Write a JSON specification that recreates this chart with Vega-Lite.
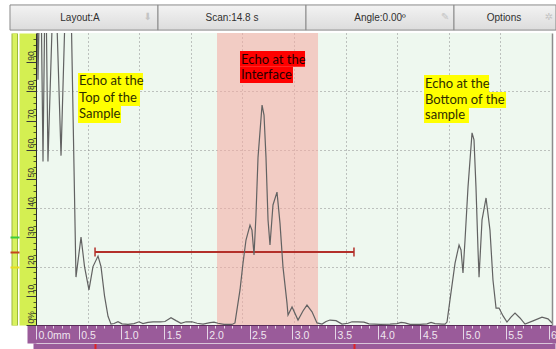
{
  "$schema": "https://vega.github.io/schema/vega-lite/v6.json",
  "width": 516,
  "height": 292,
  "autosize": {"type": "none"},
  "padding": {"left": 36, "top": 33, "right": 4, "bottom": 24},
  "background": "white",
  "view": {"fill": "#eef8ef", "stroke": null},
  "config": {"axis": {"minExtent": 0, "maxExtent": 200}},
  "resolve": {"scale": {"x": "independent", "color": "independent"}, "axis": {"x": "independent", "y": "independent"}},
  "layer": [
    {
      "data": {"values": [
        {"seg": "Layout:A", "start": 0, "end": 1, "lo": 101.0, "hi": 109.6},
        {"seg": "Scan:14.8 s", "start": 1, "end": 2, "lo": 101.0, "hi": 109.6},
        {"seg": "Angle:0.00º", "start": 2, "end": 3, "lo": 101.0, "hi": 109.6},
        {"seg": "Options", "start": 3, "end": 3.689, "lo": 101.0, "hi": 109.6}
      ]},
      "mark": {"type": "rect", "stroke": "#8a8a8a", "strokeWidth": 1,
        "fill": {"gradient": "linear", "x1": 0, "y1": 0, "x2": 0, "y2": 1,
          "stops": [{"offset": 0, "color": "#f3f3f3"}, {"offset": 1, "color": "#dcdcdc"}]}},
      "encoding": {
        "x": {"field": "start", "type": "quantitative", "scale": {"domain": [0.1757, 3.6622], "nice": false, "zero": false}, "axis": null},
        "x2": {"field": "end"},
        "y": {"field": "lo", "type": "quantitative", "scale": {"domain": [0, 100], "nice": false, "zero": false}, "title": null,
          "axis": {"orient": "left", "offset": 21.75, "domainWidth": 6.5, "domainColor": "#9cb83e", "ticks": false, "labels": false, "grid": false}},
        "y2": {"field": "hi"}
      }
    },
    {
      "data": {"values": [
        {"seg": "Layout:A", "mid": 0.473, "c": 105.3},
        {"seg": "Scan:14.8 s", "mid": 1.5, "c": 105.3},
        {"seg": "Angle:0.00º", "mid": 2.5, "c": 105.3},
        {"seg": "Options", "mid": 3.338, "c": 105.3}
      ]},
      "mark": {"type": "text", "font": "Liberation Sans", "fontSize": 10, "color": "#303030"},
      "encoding": {
        "x": {"field": "mid", "type": "quantitative", "scale": {"domain": [0.1757, 3.6622], "nice": false, "zero": false}, "axis": null},
        "y": {"field": "c", "type": "quantitative", "scale": {"domain": [0, 100], "nice": false, "zero": false}, "title": null,
          "axis": {"orient": "left", "offset": 21.75, "domainWidth": 4.5, "domainColor": "#d9f25e", "ticks": false, "labels": false, "grid": false}},
        "text": {"field": "seg"}
      }
    },
    {
      "data": {"values": [
        {"icon": "⬇", "pos": 0.93, "c": 105.6},
        {"icon": "✎", "pos": 2.94, "c": 105.6},
        {"icon": "✲", "pos": 3.64, "c": 105.6}
      ]},
      "mark": {"type": "text", "font": "DejaVu Sans", "fontSize": 10, "color": "#c4c4c4"},
      "encoding": {
        "x": {"field": "pos", "type": "quantitative", "scale": {"domain": [0.1757, 3.6622], "nice": false, "zero": false}, "axis": null},
        "y": {"field": "c", "type": "quantitative", "scale": {"domain": [0, 100], "nice": false, "zero": false}, "axis": null},
        "text": {"field": "icon"}
      }
    },
    {
      "data": {"values": [{"gate_start": 2.119, "gate_end": 3.301, "lo": 0, "hi": 100}]},
      "mark": {"type": "rect", "fill": "#f5aaa3", "opacity": 0.57},
      "encoding": {
        "x": {"field": "gate_start", "type": "quantitative", "scale": {"domain": [0, 6.04], "nice": false, "zero": false}, "title": null,
          "axis": {"orient": "bottom", "offset": 9, "domainWidth": 18, "domainCap": "square", "domainColor": "#9a5b9a", "ticks": false, "labels": false, "grid": false}},
        "x2": {"field": "gate_end"},
        "y": {"field": "lo", "type": "quantitative", "scale": {"domain": [0, 100], "nice": false, "zero": false}, "title": null,
          "axis": {"orient": "left", "offset": 8.5, "domainWidth": 17, "domainColor": "#d4ef52", "ticks": false, "labels": false, "grid": false}},
        "y2": {"field": "hi"}
      }
    },
    {
      "data": {"values": [{"from": 0.691, "to": 3.722, "level": 25}]},
      "mark": {"type": "rule", "color": "#b3302a", "strokeWidth": 2},
      "encoding": {
        "x": {"field": "from", "type": "quantitative", "scale": {"domain": [0, 6.04], "nice": false, "zero": false}, "title": null,
          "axis": {"orient": "bottom", "values": [0, 0.5, 1, 1.5, 2, 2.5, 3, 3.5, 4, 4.5, 5, 5.5, 6], "domain": false, "grid": false,
            "tickSize": 14, "tickColor": "#e6d6e6", "tickWidth": 1,
            "labelAlign": "left", "labelBaseline": "middle", "labelPadding": -4, "labelOffset": 2,
            "labelFont": "Liberation Sans", "labelFontSize": 10.5, "labelColor": "#efe6ef",
            "labelExpr": "datum.value == 0 ? '0.0mm' : format(datum.value, '.1f')", "labelOverlap": false, "labelBound": false, "labelFlush": false}},
        "x2": {"field": "to"},
        "y": {"field": "level", "type": "quantitative", "scale": {"domain": [0, 100], "nice": false, "zero": false}, "title": null,
          "axis": {"orient": "left", "offset": 17, "values": [20, 25, 30], "domain": false, "labels": false, "grid": false,
            "tickSize": 9, "tickWidth": 2,
            "tickColor": {"condition": [{"test": "datum.value == 30", "value": "#3ccc3c"}, {"test": "datum.value == 25", "value": "#c4461e"}], "value": "#e8dc20"}}}
      }
    },
    {
      "data": {"values": [{"pos": 0.691, "lo": 23.5, "hi": 26.5}, {"pos": 3.722, "lo": 23.5, "hi": 26.5}]},
      "mark": {"type": "rule", "color": "#b3302a", "strokeWidth": 1.5},
      "encoding": {
        "x": {"field": "pos", "type": "quantitative", "scale": {"domain": [0, 6.04], "nice": false, "zero": false}, "title": null,
          "axis": {"orient": "bottom", "values": [0.1, 0.2, 0.3, 0.4, 0.6, 0.7, 0.8, 0.9, 1.1, 1.2, 1.3, 1.4, 1.6, 1.7, 1.8, 1.9, 2.1, 2.2, 2.3, 2.4, 2.6, 2.7, 2.8, 2.9, 3.1, 3.2, 3.3, 3.4, 3.6, 3.7, 3.8, 3.9, 4.1, 4.2, 4.3, 4.4, 4.6, 4.7, 4.8, 4.9, 5.1, 5.2, 5.3, 5.4, 5.6, 5.7, 5.8, 5.9],
            "tickSize": 3, "tickColor": "#e6d6e6", "domain": true, "domainColor": "#5a2c5a", "domainWidth": 1, "labels": false, "grid": false}},
        "y": {"field": "lo", "type": "quantitative", "scale": {"domain": [0, 100], "nice": false, "zero": false}, "title": null,
          "axis": {"orient": "left", "offset": 0, "values": [2, 4, 6, 8, 12, 14, 16, 18, 22, 24, 26, 28, 32, 34, 36, 38, 42, 44, 46, 48, 52, 54, 56, 58, 62, 64, 66, 68, 72, 74, 76, 78, 82, 84, 86, 88, 92, 94, 96, 98],
            "tickSize": 3, "tickColor": "#4a5a20", "domain": true, "domainColor": "#2a2a2a", "domainWidth": 1, "labels": false, "grid": false}},
        "y2": {"field": "hi"}
      }
    },
    {
      "data": {"values": [
        {"mm": 0.006, "amp": 130}, {"mm": 0.023, "amp": 84}, {"mm": 0.053, "amp": 130}, {"mm": 0.082, "amp": 56},
        {"mm": 0.111, "amp": 130}, {"mm": 0.140, "amp": 56}, {"mm": 0.217, "amp": 130}, {"mm": 0.293, "amp": 58},
        {"mm": 0.363, "amp": 130}, {"mm": 0.398, "amp": 130}, {"mm": 0.468, "amp": 16.4}, {"mm": 0.527, "amp": 30.1},
        {"mm": 0.568, "amp": 20.0}, {"mm": 0.620, "amp": 12.0}, {"mm": 0.667, "amp": 20.0}, {"mm": 0.726, "amp": 23.6},
        {"mm": 0.761, "amp": 20.0}, {"mm": 0.802, "amp": 10.0}, {"mm": 0.843, "amp": 3.0}, {"mm": 0.878, "amp": 0.3},
        {"mm": 0.913, "amp": 0.5}, {"mm": 0.960, "amp": 1.1}, {"mm": 1.007, "amp": 0.4}, {"mm": 1.077, "amp": 0.2},
        {"mm": 1.147, "amp": 0.5}, {"mm": 1.206, "amp": 1.1}, {"mm": 1.252, "amp": 0.5}, {"mm": 1.311, "amp": 0.9},
        {"mm": 1.370, "amp": 1.1}, {"mm": 1.452, "amp": 1.1}, {"mm": 1.510, "amp": 1.2}, {"mm": 1.580, "amp": 2.5},
        {"mm": 1.639, "amp": 1.5}, {"mm": 1.697, "amp": 0.6}, {"mm": 1.756, "amp": 1.1}, {"mm": 1.826, "amp": 1.1},
        {"mm": 1.885, "amp": 0.6}, {"mm": 1.955, "amp": 0.3}, {"mm": 2.037, "amp": 0.8}, {"mm": 2.084, "amp": 1.0},
        {"mm": 2.130, "amp": 0.6}, {"mm": 2.201, "amp": 0.2}, {"mm": 2.294, "amp": 0.2}, {"mm": 2.329, "amp": 0.7},
        {"mm": 2.388, "amp": 12.0}, {"mm": 2.423, "amp": 21.2}, {"mm": 2.458, "amp": 29.1}, {"mm": 2.505, "amp": 34.2},
        {"mm": 2.528, "amp": 32.5}, {"mm": 2.552, "amp": 24.0}, {"mm": 2.575, "amp": 37.7}, {"mm": 2.599, "amp": 57.5},
        {"mm": 2.646, "amp": 75.3}, {"mm": 2.669, "amp": 71.9}, {"mm": 2.692, "amp": 57.5}, {"mm": 2.716, "amp": 36.0},
        {"mm": 2.739, "amp": 27.4}, {"mm": 2.774, "amp": 41.1}, {"mm": 2.821, "amp": 45.5}, {"mm": 2.856, "amp": 34.9},
        {"mm": 2.891, "amp": 19.9}, {"mm": 2.938, "amp": 7.5}, {"mm": 2.950, "amp": 3.4}, {"mm": 2.997, "amp": 6.2},
        {"mm": 3.067, "amp": 1.7}, {"mm": 3.125, "amp": 4.8}, {"mm": 3.172, "amp": 6.8}, {"mm": 3.231, "amp": 4.5},
        {"mm": 3.289, "amp": 0.7}, {"mm": 3.348, "amp": 0.3}, {"mm": 3.395, "amp": 1.2}, {"mm": 3.441, "amp": 1.7},
        {"mm": 3.512, "amp": 1.5}, {"mm": 3.582, "amp": 0.3}, {"mm": 3.652, "amp": 0.6}, {"mm": 3.699, "amp": 1.1},
        {"mm": 3.769, "amp": 1.1}, {"mm": 3.839, "amp": 1.0}, {"mm": 3.898, "amp": 0.4}, {"mm": 4.027, "amp": 0.2},
        {"mm": 4.144, "amp": 0.3}, {"mm": 4.226, "amp": 0.5}, {"mm": 4.273, "amp": 0.9}, {"mm": 4.319, "amp": 0.7},
        {"mm": 4.378, "amp": 0.2}, {"mm": 4.495, "amp": 0.2}, {"mm": 4.577, "amp": 0.4}, {"mm": 4.624, "amp": 0.9},
        {"mm": 4.671, "amp": 0.5}, {"mm": 4.752, "amp": 0.3}, {"mm": 4.788, "amp": 0.3}, {"mm": 4.811, "amp": 1.0},
        {"mm": 4.846, "amp": 8.6}, {"mm": 4.905, "amp": 21.2}, {"mm": 4.952, "amp": 27.4}, {"mm": 4.975, "amp": 25.7},
        {"mm": 4.998, "amp": 17.8}, {"mm": 5.022, "amp": 29.1}, {"mm": 5.057, "amp": 47.3}, {"mm": 5.104, "amp": 65.8},
        {"mm": 5.127, "amp": 63.4}, {"mm": 5.150, "amp": 47.3}, {"mm": 5.174, "amp": 25.7}, {"mm": 5.186, "amp": 16.4},
        {"mm": 5.221, "amp": 36.0}, {"mm": 5.268, "amp": 43.5}, {"mm": 5.314, "amp": 32.5}, {"mm": 5.349, "amp": 15.4},
        {"mm": 5.385, "amp": 5.8}, {"mm": 5.420, "amp": 5.8}, {"mm": 5.467, "amp": 3.1}, {"mm": 5.513, "amp": 1.0},
        {"mm": 5.560, "amp": 2.7}, {"mm": 5.607, "amp": 4.1}, {"mm": 5.665, "amp": 2.4}, {"mm": 5.724, "amp": 0.3},
        {"mm": 5.818, "amp": 1.4}, {"mm": 5.923, "amp": 2.7}, {"mm": 5.993, "amp": 2.1}, {"mm": 6.040, "amp": 0.7}
      ]},
      "mark": {"type": "line", "color": "#626262", "strokeWidth": 1.2, "clip": true},
      "encoding": {
        "x": {"field": "mm", "type": "quantitative", "scale": {"domain": [0, 6.04], "nice": false, "zero": false}, "title": null,
          "axis": {"orient": "bottom", "values": [0.604, 1.208, 1.812, 2.416, 3.02, 3.624, 4.228, 4.832, 5.436], "grid": true, "gridColor": "#8a8a8a", "gridDash": [1, 3], "gridWidth": 1, "domain": false, "ticks": false, "labels": false}},
        "y": {"field": "amp", "type": "quantitative", "scale": {"domain": [0, 100], "nice": false, "zero": false}, "title": null,
          "axis": {"orient": "left", "values": [20, 40, 60, 80], "grid": true, "gridColor": "#8a8a8a", "gridDash": [1, 3], "gridWidth": 1, "domain": false, "ticks": false, "labels": false}}
      }
    },
    {
      "data": {"values": [
        {"x0": 0.492, "x1": 1.252, "y0": 80.5, "y1": 86.3, "kind": "yellow"},
        {"x0": 0.492, "x1": 1.217, "y0": 75.0, "y1": 80.5, "kind": "yellow"},
        {"x0": 0.492, "x1": 0.995, "y0": 69.2, "y1": 75.0, "kind": "yellow"},
        {"x0": 2.388, "x1": 3.149, "y0": 88.4, "y1": 93.8, "kind": "red"},
        {"x0": 2.388, "x1": 3.008, "y0": 82.9, "y1": 88.4, "kind": "red"},
        {"x0": 4.542, "x1": 5.303, "y0": 79.8, "y1": 85.6, "kind": "yellow"},
        {"x0": 4.542, "x1": 5.502, "y0": 74.3, "y1": 79.8, "kind": "yellow"},
        {"x0": 4.542, "x1": 5.068, "y0": 69.2, "y1": 74.3, "kind": "yellow"}
      ]},
      "mark": {"type": "rect"},
      "encoding": {
        "x": {"field": "x0", "type": "quantitative", "scale": {"domain": [0, 6.04], "nice": false, "zero": false}, "title": null,
          "axis": {"orient": "bottom", "offset": 21, "domainWidth": 6, "domainCap": "square", "domainColor": "#9a5b9a", "ticks": false, "labels": false, "grid": false}},
        "x2": {"field": "x1"},
        "y": {"field": "y0", "type": "quantitative", "scale": {"domain": [0, 100], "nice": false, "zero": false}, "title": null,
          "axis": {"orient": "right", "domain": true, "domainColor": "#8c8c8c", "domainWidth": 1.5, "ticks": false, "labels": false, "grid": false}},
        "y2": {"field": "y1"},
        "color": {"field": "kind", "type": "nominal", "scale": {"domain": ["yellow", "red"], "range": ["#ffff00", "#ff0000"]}, "legend": null}
      }
    },
    {
      "data": {"values": [
        {"x": 0.504, "y": 83.4, "t": "Echo at the", "kind": "yellow"},
        {"x": 0.504, "y": 77.75, "t": "Top of the", "kind": "yellow"},
        {"x": 0.504, "y": 72.1, "t": "Sample", "kind": "yellow"},
        {"x": 2.400, "y": 90.9, "t": "Echo at the", "kind": "red"},
        {"x": 2.400, "y": 85.55, "t": "Interface", "kind": "red"},
        {"x": 4.554, "y": 82.7, "t": "Echo at the", "kind": "yellow"},
        {"x": 4.554, "y": 77.05, "t": "Bottom of the", "kind": "yellow"},
        {"x": 4.554, "y": 71.75, "t": "\u00a0sample", "kind": "yellow"}
      ]},
      "mark": {"type": "text", "align": "left", "baseline": "middle", "font": "Lato", "fontSize": 13},
      "encoding": {
        "x": {"field": "x", "type": "quantitative", "scale": {"domain": [0, 6.04], "nice": false, "zero": false}, "title": null,
          "axis": {"orient": "bottom", "offset": 18, "values": [0.691, 3.722], "tickSize": 6, "tickColor": "#e02424", "tickWidth": 2, "domain": true, "domainColor": "#d9c6d9", "domainWidth": 1, "labels": false, "grid": false}},
        "y": {"field": "y", "type": "quantitative", "scale": {"domain": [0, 100], "nice": false, "zero": false}, "title": null,
          "axis": {"orient": "left", "offset": 0, "values": [0, 10, 20, 30, 40, 50, 60, 70, 80, 90],
            "tickSize": 10, "tickColor": "#3a3a3a", "domain": false, "grid": false,
            "labelAngle": 270, "labelAlign": "left", "labelBaseline": "middle", "labelPadding": -4, "labelOffset": -2,
            "labelFont": "Liberation Sans", "labelFontSize": 8.5, "labelColor": "#333333",
            "labelExpr": "datum.value == 0 ? '0%' : datum.label", "labelOverlap": false, "labelBound": false, "labelFlush": false}},
        "text": {"field": "t"},
        "color": {"field": "kind", "type": "nominal", "scale": {"domain": ["yellow", "red"], "range": ["#2e2e00", "#1e0000"]}, "legend": null}
      }
    }
  ]
}
